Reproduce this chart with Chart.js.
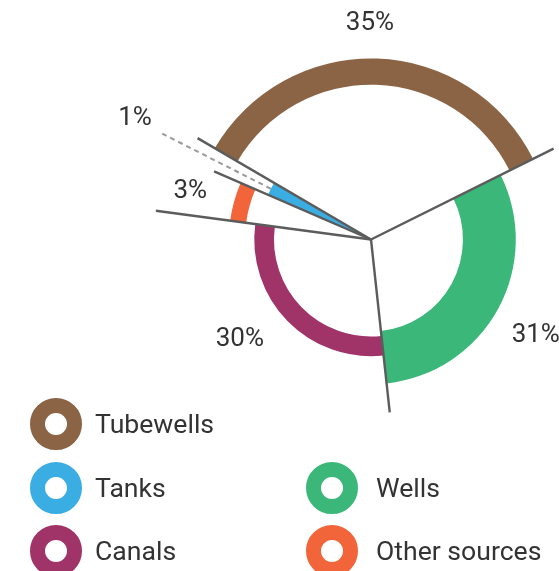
<!DOCTYPE html>
<html>
<head>
<meta charset="utf-8">
<script src="https://cdn.jsdelivr.net/npm/chart.js@4/dist/chart.umd.min.js"></script>
<style>
  html, body { margin: 0; padding: 0; background: #fff; }
  #wrap { position: relative; width: 559px; height: 571px; overflow: hidden; font-family: Roboto, "Noto Sans", sans-serif; }
  #c { position: absolute; left: 0; top: 0; }
  .mark { position: absolute; width: 52px; height: 52px; box-sizing: border-box; border-radius: 50%; border-style: solid; border-width: 15.5px; background: #fff; }
  .lbl { position: absolute; font-size: 26.6px; color: #333; line-height: 30px; white-space: nowrap; }
</style>
</head>
<body>
<div id="wrap">
  <canvas id="c" width="559" height="571"></canvas>
  <div id="legend"></div>
</div>
<script>
// ---- data (clockwise from the Tubewells slice) ----
const categories = ['Tubewells', 'Wells', 'Canals', 'Other sources', 'Tanks'];
const shares = [34.2, 30.6, 28.8, 4.4, 1.9];          // angular share
const percentLabels = ['35%', '31%', '30%', '3%', '1%'];
const legendOrder = ['Tubewells', null, 'Tanks', 'Wells', 'Canals', 'Other sources'];

// ---- styling ----
const colors = ['#8B6445', '#3BB879', '#A03469', '#F2643A', '#3AADE3'];
const ringOuter = [1.0, 0.80, 0.645, 0.785, 0.62];     // fraction of chart radius
const ringInner = [0.855, 0.508, 0.536, 0.696, 0.0];
const separatorReach = [1.11, 1.127, 0.961, 1.199, 0.945]; // line at start of each slice
const labelReach = [1.196, 1.053, 0.91, 1.033, 1.464];
const labelShiftDeg = [-2.2, 1.5, 7.1, -0.7, 0.2];
const leaderIndex = 4, leaderEnd = 1.293;

const overlay = {
  id: 'overlay',
  beforeDatasetsDraw(chart) {
    const meta = chart.getDatasetMeta(0);
    const R = meta.controller.outerRadius;
    meta.data.forEach((arc, i) => {
      arc.outerRadius = R * ringOuter[i];
      arc.innerRadius = R * ringInner[i];
    });
  },
  afterDatasetsDraw(chart) {
    const ctx = chart.ctx;
    const meta = chart.getDatasetMeta(0);
    const R = meta.controller.outerRadius;
    const arcs = meta.data;
    const cx = arcs[0].x, cy = arcs[0].y;
    ctx.save();
    // dashed leader for the tiny slice
    const la = arcs[leaderIndex];
    const lm = (la.startAngle + la.endAngle) / 2;
    ctx.setLineDash([5, 4]);
    ctx.strokeStyle = '#9a9a9a';
    ctx.lineWidth = 2;
    ctx.beginPath();
    ctx.moveTo(cx + Math.cos(lm) * R * ringOuter[leaderIndex], cy + Math.sin(lm) * R * ringOuter[leaderIndex]);
    ctx.lineTo(cx + Math.cos(lm) * R * leaderEnd, cy + Math.sin(lm) * R * leaderEnd);
    ctx.stroke();
    ctx.setLineDash([]);
    // separators
    ctx.strokeStyle = '#5c5c5c';
    ctx.lineWidth = 2.4;
    ctx.lineCap = 'butt';
    arcs.forEach((arc, i) => {
      const a = arc.startAngle;
      ctx.beginPath();
      ctx.moveTo(cx, cy);
      ctx.lineTo(cx + Math.cos(a) * R * separatorReach[i], cy + Math.sin(a) * R * separatorReach[i]);
      ctx.stroke();
    });
    // percent labels
    ctx.fillStyle = '#333';
    ctx.font = '26px Roboto, "Noto Sans", sans-serif';
    ctx.textAlign = 'center';
    ctx.textBaseline = 'middle';
    arcs.forEach((arc, i) => {
      const m = (arc.startAngle + arc.endAngle) / 2 + labelShiftDeg[i] * Math.PI / 180;
      ctx.fillText(percentLabels[i], cx + Math.cos(m) * R * labelReach[i], cy + Math.sin(m) * R * labelReach[i]);
    });
    ctx.restore();
  }
};

new Chart(document.getElementById('c'), {
  type: 'doughnut',
  data: {
    labels: categories,
    datasets: [{ data: shares, backgroundColor: colors, borderWidth: 0, hoverOffset: 0 }]
  },
  options: {
    responsive: false,
    animation: false,
    events: [],
    rotation: -59.7,
    cutout: 0,
    layout: { padding: { left: 190, right: 7, top: 58.5, bottom: 150.5 } },
    plugins: { legend: { display: false }, tooltip: { enabled: false } }
  },
  plugins: [overlay]
});

// ---- HTML legend ----
const legend = document.getElementById('legend');
const colMarkX = [56, 332], colTextX = [95, 376], rowY = [424, 487.5, 551];
legendOrder.forEach((name, k) => {
  if (!name) return;
  const i = categories.indexOf(name);
  const col = k % 2, row = Math.floor(k / 2);
  const m = document.createElement('div');
  m.className = 'mark';
  m.style.borderColor = colors[i];
  m.style.left = (colMarkX[col] - 26) + 'px';
  m.style.top = (rowY[row] - 26) + 'px';
  legend.appendChild(m);
  const t = document.createElement('div');
  t.className = 'lbl';
  t.textContent = name;
  t.style.left = colTextX[col] + 'px';
  t.style.top = (rowY[row] - 15) + 'px';
  legend.appendChild(t);
});
</script>
</body>
</html>
